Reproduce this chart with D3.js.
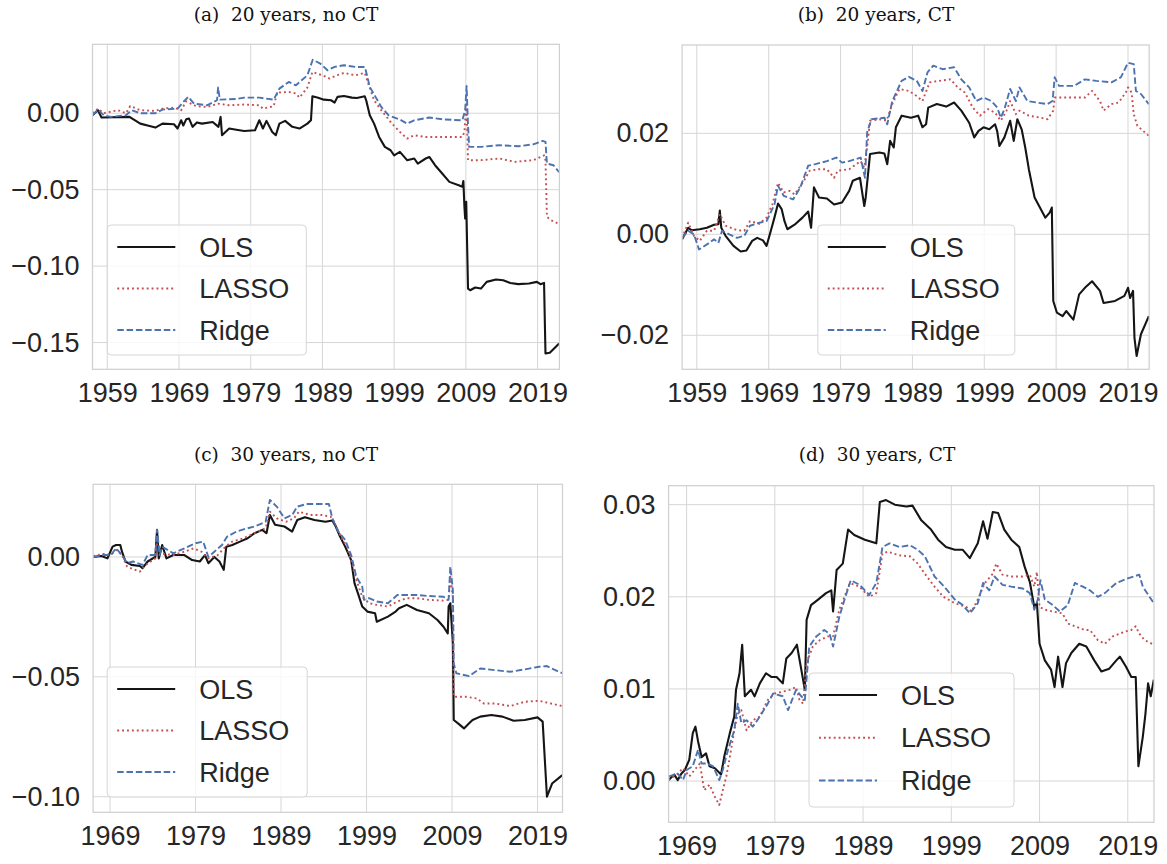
<!DOCTYPE html>
<html>
<head>
<meta charset="utf-8">
<script src="https://cdn.jsdelivr.net/npm/d3@7"></script>
<style>
  body { margin: 0; background: #fff; }
  svg { display: block; }
  .title { font-family: "DejaVu Serif", "Liberation Serif", serif; font-size: 18.5px; fill: #111; white-space: pre; }
  .legend text { font-family: "Liberation Sans", Arial, sans-serif; font-size: 27px; fill: #262626; }
</style>
</head>
<body>
<svg id="chart" width="1167" height="864"></svg>
<script>
// tick labels
const xTicks20 = [1959, 1969, 1979, 1989, 1999, 2009, 2019];
const xTicks30 = [1969, 1979, 1989, 1999, 2009, 2019];
const yTicksA = [-0.15, -0.10, -0.05, 0.00];
const yTicksB = [-0.02, 0.00, 0.02];
const yTicksC = [-0.10, -0.05, 0.00];
const yTicksD = [0.00, 0.01, 0.02, 0.03];

const seriesNames = ["OLS", "LASSO", "Ridge"];

// (a) 20 years, no CT  -- [year, value]
const olsA = [[1956.94,-0.0013],[1957.7,0.0020],[1958.2,-0.0028],[1962.1,-0.0024],[1963.6,-0.0068],[1964.9,-0.0083],[1965.7,-0.0094],[1966.7,-0.0068],[1968.3,-0.0072],[1968.8,-0.0100],[1969.3,-0.0046],[1969.6,-0.0080],[1970.0,-0.0040],[1970.4,-0.0035],[1970.9,-0.0089],[1971.5,-0.0060],[1972.2,-0.0068],[1973.7,-0.0057],[1974.5,-0.0089],[1974.8,-0.0024],[1975.0,-0.0144],[1976.0,-0.0100],[1977.0,-0.0108],[1978.1,-0.0116],[1979.6,-0.0111],[1980.2,-0.0046],[1980.7,-0.0100],[1981.2,-0.0050],[1982.0,-0.0122],[1982.5,-0.0144],[1983.0,-0.0068],[1983.8,-0.0050],[1984.8,-0.0089],[1985.8,-0.0100],[1986.9,-0.0068],[1987.4,-0.0046],[1987.6,0.0111],[1988.4,0.0102],[1989.2,0.0089],[1990.2,0.0085],[1990.7,0.0070],[1991.1,0.0107],[1992.0,0.0113],[1993.1,0.0102],[1993.8,0.0100],[1994.9,0.0111],[1995.1,0.0085],[1995.6,-0.0013],[1996.2,-0.0068],[1996.9,-0.0155],[1997.7,-0.0220],[1998.5,-0.0242],[1999.0,-0.0275],[1999.8,-0.0253],[2000.8,-0.0307],[2001.8,-0.0296],[2002.3,-0.0329],[2003.4,-0.0296],[2003.9,-0.0286],[2004.7,-0.0340],[2005.7,-0.0394],[2006.7,-0.0449],[2008.0,-0.0471],[2008.5,-0.0481],[2008.65,-0.0443],[2008.8,-0.0613],[2008.9,-0.0689],[2009.05,-0.0580],[2009.3,-0.1147],[2009.6,-0.1158],[2010.3,-0.1140],[2011.1,-0.1147],[2011.9,-0.1103],[2013.2,-0.1088],[2014.2,-0.1092],[2015.2,-0.1110],[2016.3,-0.1118],[2017.8,-0.1114],[2018.9,-0.1103],[2019.4,-0.1118],[2019.9,-0.1110],[2020.1,-0.1572],[2020.7,-0.1567],[2022.0,-0.1506]];
const lassoA = [[1956.94,0.0000],[1957.7,0.0030],[1958.5,0.0000],[1959.5,0.0010],[1960.5,0.0020],[1961.6,0.0000],[1962.2,0.0047],[1963.6,0.0020],[1965.7,0.0015],[1966.7,0.0030],[1968.3,0.0037],[1969.3,0.0020],[1970.0,0.0078],[1971.4,0.0046],[1972.9,0.0041],[1974.5,0.0063],[1976.0,0.0052],[1978.1,0.0057],[1980.2,0.0052],[1980.7,0.0030],[1982.2,0.0046],[1982.7,0.0135],[1984.3,0.0139],[1985.3,0.0129],[1985.8,0.0102],[1986.9,0.0168],[1987.6,0.0270],[1989.0,0.0248],[1990.0,0.0227],[1991.0,0.0248],[1992.0,0.0264],[1993.6,0.0248],[1994.9,0.0264],[1995.4,0.0194],[1996.2,0.0085],[1997.2,0.0020],[1998.7,-0.0068],[1999.8,-0.0122],[2000.8,-0.0166],[2001.8,-0.0144],[2003.4,-0.0155],[2006.0,-0.0155],[2008.5,-0.0155],[2008.8,-0.0122],[2009.05,0.0070],[2009.2,-0.0133],[2009.3,-0.0307],[2011.1,-0.0307],[2013.7,-0.0296],[2015.8,-0.0318],[2018.4,-0.0307],[2019.4,-0.0286],[2019.9,-0.0275],[2020.1,-0.0307],[2020.3,-0.0678],[2020.9,-0.0700],[2022.0,-0.0725]];
const ridgeA = [[1956.94,-0.0013],[1957.7,0.0024],[1958.5,-0.0013],[1959.5,-0.0024],[1961.6,-0.0013],[1962.4,0.0020],[1963.6,0.0000],[1965.7,0.0000],[1966.7,0.0024],[1968.8,0.0030],[1969.6,0.0074],[1970.3,0.0107],[1971.1,0.0063],[1972.9,0.0052],[1974.3,0.0085],[1974.45,0.0168],[1974.7,0.0089],[1977.1,0.0094],[1978.1,0.0102],[1980.2,0.0102],[1982.2,0.0089],[1983.0,0.0161],[1984.3,0.0205],[1985.3,0.0183],[1986.1,0.0216],[1986.9,0.0248],[1987.65,0.0350],[1988.7,0.0325],[1989.7,0.0281],[1990.7,0.0303],[1992.0,0.0314],[1993.6,0.0303],[1994.9,0.0303],[1995.1,0.0270],[1995.6,0.0172],[1996.4,0.0107],[1997.2,0.0041],[1998.2,-0.0013],[1999.8,-0.0041],[2000.8,-0.0068],[2001.8,-0.0046],[2003.9,-0.0028],[2006.0,-0.0041],[2008.5,-0.0046],[2008.9,0.0020],[2009.1,0.0178],[2009.25,-0.0024],[2009.45,-0.0220],[2011.1,-0.0220],[2013.7,-0.0209],[2016.3,-0.0216],[2018.4,-0.0203],[2019.7,-0.0181],[2020.1,-0.0187],[2020.3,-0.0329],[2021.2,-0.0340],[2022.0,-0.0385]];

// (b) 20 years, CT
const olsB = [[1956.95,-0.0010],[1957.8,0.0013],[1958.3,0.0008],[1959.4,0.0010],[1960.4,0.0013],[1961.4,0.0019],[1962.0,0.0020],[1962.2,0.0047],[1962.4,0.0013],[1963.0,-0.0003],[1964.1,-0.0023],[1965.1,-0.0034],[1965.9,-0.0032],[1966.7,-0.0013],[1967.4,-0.0007],[1968.2,-0.0012],[1968.7,-0.0023],[1969.3,0.0007],[1969.8,0.0033],[1970.3,0.0061],[1970.8,0.0050],[1971.2,0.0026],[1971.6,0.0010],[1972.6,0.0019],[1973.7,0.0033],[1974.5,0.0045],[1974.9,0.0013],[1975.3,0.0093],[1976.0,0.0073],[1977.1,0.0071],[1978.1,0.0059],[1979.2,0.0063],[1980.2,0.0086],[1980.7,0.0106],[1981.7,0.0112],[1982.3,0.0056],[1982.5,0.0073],[1983.1,0.0159],[1984.4,0.0162],[1985.1,0.0160],[1985.5,0.0139],[1985.9,0.0185],[1986.4,0.0172],[1986.7,0.0212],[1987.5,0.0235],[1988.8,0.0231],[1989.8,0.0235],[1990.4,0.0212],[1990.9,0.0218],[1991.2,0.0251],[1992.4,0.0258],[1993.7,0.0253],[1994.8,0.0261],[1995.8,0.0245],[1996.9,0.0221],[1997.6,0.0192],[1998.2,0.0205],[1998.9,0.0212],[1999.7,0.0208],[2000.5,0.0218],[2000.8,0.0204],[2001.1,0.0175],[2001.8,0.0192],[2002.6,0.0225],[2003.1,0.0185],[2003.6,0.0228],[2004.2,0.0208],[2004.7,0.0172],[2005.2,0.0129],[2006.0,0.0073],[2007.0,0.0046],[2007.5,0.0033],[2008.1,0.0043],[2008.4,0.0053],[2008.6,-0.0132],[2009.1,-0.0155],[2009.9,-0.0162],[2010.4,-0.0152],[2011.4,-0.0169],[2012.2,-0.0119],[2013.0,-0.0106],[2014.0,-0.0093],[2015.1,-0.0112],[2015.6,-0.0136],[2017.2,-0.0132],[2018.5,-0.0122],[2019.0,-0.0106],[2019.3,-0.0126],[2019.7,-0.0112],[2019.9,-0.0205],[2020.2,-0.0241],[2020.8,-0.0198],[2021.9,-0.0162]];
const lassoB = [[1956.95,-0.0007],[1957.8,0.0023],[1958.6,-0.0003],[1959.4,-0.0013],[1960.4,0.0007],[1961.4,0.0007],[1962.2,0.0040],[1963.0,0.0017],[1964.6,0.0008],[1965.6,0.0007],[1966.4,0.0026],[1967.7,0.0021],[1968.7,0.0033],[1969.5,0.0059],[1970.3,0.0102],[1971.1,0.0083],[1971.9,0.0086],[1972.6,0.0079],[1973.9,0.0106],[1974.7,0.0126],[1976.0,0.0129],[1977.1,0.0129],[1978.1,0.0112],[1978.6,0.0126],[1980.2,0.0129],[1981.8,0.0145],[1982.3,0.0132],[1982.7,0.0172],[1983.1,0.0225],[1984.4,0.0228],[1985.4,0.0225],[1986.2,0.0258],[1987.2,0.0288],[1988.5,0.0284],[1989.6,0.0274],[1990.4,0.0264],[1991.4,0.0301],[1992.7,0.0304],[1994.3,0.0307],[1995.3,0.0291],[1996.3,0.0281],[1997.4,0.0251],[1998.4,0.0235],[1999.5,0.0248],[2000.5,0.0241],[2001.3,0.0225],[2002.1,0.0245],[2002.6,0.0264],[2003.4,0.0238],[2003.9,0.0245],[2005.2,0.0235],[2006.8,0.0231],[2007.8,0.0228],[2008.6,0.0245],[2008.8,0.0271],[2010.4,0.0271],[2013.0,0.0271],[2014.0,0.0284],[2015.1,0.0264],[2015.6,0.0245],[2016.7,0.0258],[2017.7,0.0261],[2018.7,0.0281],[2019.0,0.0291],[2019.5,0.0281],[2019.8,0.0238],[2020.3,0.0215],[2021.9,0.0195]];
const ridgeB = [[1956.95,-0.0007],[1957.8,0.0007],[1958.6,0.0000],[1959.3,-0.0030],[1960.4,-0.0020],[1961.4,-0.0010],[1962.0,-0.0017],[1962.5,0.0007],[1963.5,0.0000],[1964.6,-0.0007],[1965.6,-0.0003],[1966.4,0.0017],[1967.7,0.0023],[1968.7,0.0026],[1969.8,0.0059],[1970.3,0.0096],[1971.1,0.0076],[1972.4,0.0069],[1973.4,0.0093],[1974.5,0.0136],[1975.5,0.0139],[1977.1,0.0145],[1978.4,0.0152],[1979.2,0.0142],[1980.2,0.0145],[1981.8,0.0152],[1982.4,0.0112],[1982.7,0.0202],[1983.3,0.0228],[1985.1,0.0231],[1985.5,0.0218],[1986.2,0.0264],[1987.5,0.0304],[1988.5,0.0312],[1989.6,0.0304],[1990.4,0.0284],[1991.1,0.0321],[1991.9,0.0334],[1993.2,0.0327],[1994.8,0.0331],[1995.8,0.0307],[1996.9,0.0291],[1997.9,0.0264],[1998.9,0.0271],[2000.0,0.0264],[2000.8,0.0251],[2001.3,0.0231],[2001.8,0.0248],[2002.6,0.0288],[2003.4,0.0264],[2003.9,0.0291],[2005.0,0.0264],[2006.3,0.0261],[2007.8,0.0258],[2008.5,0.0264],[2008.8,0.0311],[2009.4,0.0294],[2011.5,0.0294],[2013.0,0.0307],[2014.6,0.0304],[2016.7,0.0301],[2018.0,0.0311],[2019.0,0.0340],[2019.8,0.0337],[2020.1,0.0284],[2020.8,0.0278],[2021.9,0.0258]];

// (c) 30 years, no CT
const olsC = [[1967.02,0.0000],[1968.0,0.0004],[1968.7,-0.0006],[1969.3,0.0043],[1969.7,0.0050],[1970.2,0.0050],[1970.4,0.0022],[1970.8,-0.0019],[1971.5,-0.0033],[1972.5,-0.0038],[1972.8,-0.0047],[1973.4,-0.0019],[1974.3,0.0000],[1974.5,0.0113],[1974.7,-0.0006],[1975.1,0.0050],[1975.6,-0.0006],[1976.4,0.0008],[1977.7,0.0008],[1978.6,-0.0013],[1979.5,-0.0019],[1980.1,0.0008],[1980.5,-0.0026],[1981.2,0.0000],[1981.8,-0.0019],[1982.3,-0.0054],[1982.6,0.0043],[1983.3,0.0050],[1984.2,0.0064],[1985.1,0.0078],[1985.9,0.0099],[1986.8,0.0113],[1987.3,0.0099],[1987.7,0.0175],[1988.3,0.0134],[1989.4,0.0127],[1990.3,0.0106],[1990.9,0.0154],[1991.8,0.0166],[1992.9,0.0154],[1994.2,0.0147],[1995.0,0.0152],[1995.4,0.0127],[1995.9,0.0085],[1996.5,0.0043],[1997.2,-0.0013],[1997.6,-0.0110],[1998.0,-0.0152],[1998.5,-0.0207],[1999.1,-0.0228],[2000.0,-0.0235],[2000.2,-0.0270],[2001.5,-0.0249],[2002.4,-0.0228],[2002.8,-0.0214],[2003.7,-0.0200],[2004.9,-0.0221],[2006.3,-0.0235],[2007.3,-0.0263],[2008.0,-0.0291],[2008.5,-0.0319],[2008.6,-0.0207],[2008.8,-0.0193],[2009.1,-0.0360],[2009.2,-0.0680],[2009.7,-0.0694],[2010.4,-0.0715],[2011.0,-0.0694],[2011.4,-0.0680],[2012.3,-0.0666],[2013.6,-0.0659],[2014.9,-0.0666],[2016.2,-0.0683],[2017.5,-0.0680],[2019.0,-0.0669],[2019.6,-0.0687],[2020.1,-0.1000],[2020.7,-0.0945],[2021.9,-0.0910]];
const lassoC = [[1967.02,0.0004],[1968.2,0.0013],[1969.1,0.0008],[1969.7,0.0029],[1970.4,0.0008],[1971.0,-0.0040],[1971.7,-0.0051],[1972.5,-0.0061],[1973.2,-0.0033],[1974.3,-0.0006],[1974.5,0.0057],[1975.1,0.0013],[1976.4,0.0008],[1977.7,0.0022],[1978.8,0.0036],[1979.7,0.0022],[1980.5,-0.0006],[1981.6,0.0008],[1982.5,0.0043],[1983.3,0.0064],[1984.6,0.0078],[1985.9,0.0099],[1987.2,0.0120],[1987.7,0.0189],[1988.5,0.0161],[1989.6,0.0147],[1990.5,0.0161],[1991.1,0.0189],[1992.4,0.0175],[1993.7,0.0175],[1994.8,0.0168],[1995.2,0.0147],[1995.9,0.0092],[1996.7,0.0043],[1997.4,-0.0040],[1997.8,-0.0096],[1998.5,-0.0166],[1999.3,-0.0193],[2000.2,-0.0200],[2001.5,-0.0207],[2002.6,-0.0186],[2003.7,-0.0172],[2004.9,-0.0172],[2006.3,-0.0179],[2008.0,-0.0182],[2008.6,-0.0179],[2008.8,-0.0082],[2009.1,-0.0166],[2009.2,-0.0583],[2010.6,-0.0583],[2011.9,-0.0590],[2012.7,-0.0611],[2014.0,-0.0611],[2015.8,-0.0622],[2017.5,-0.0604],[2019.2,-0.0600],[2020.5,-0.0611],[2021.9,-0.0622]];
const ridgeC = [[1967.02,0.0000],[1968.2,0.0008],[1969.1,0.0008],[1969.7,0.0036],[1970.4,0.0008],[1971.0,-0.0026],[1971.7,-0.0019],[1972.8,-0.0033],[1973.4,0.0008],[1974.3,0.0008],[1974.5,0.0113],[1974.8,0.0008],[1975.1,0.0043],[1976.4,0.0015],[1977.7,0.0036],[1979.0,0.0057],[1979.9,0.0064],[1980.5,0.0000],[1981.2,0.0022],[1982.1,0.0050],[1982.7,0.0085],[1983.8,0.0106],[1984.6,0.0115],[1985.9,0.0127],[1987.2,0.0147],[1987.7,0.0238],[1988.5,0.0210],[1989.4,0.0161],[1990.3,0.0175],[1990.9,0.0210],[1992.0,0.0221],[1993.3,0.0221],[1994.6,0.0221],[1995.0,0.0161],[1995.7,0.0106],[1996.5,0.0071],[1997.2,0.0008],[1997.8,-0.0082],[1998.5,-0.0124],[1998.7,-0.0179],[1999.3,-0.0172],[2000.2,-0.0186],[2001.5,-0.0193],[2002.6,-0.0159],[2003.7,-0.0159],[2004.9,-0.0159],[2006.3,-0.0163],[2008.0,-0.0166],[2008.6,-0.0179],[2008.8,-0.0040],[2009.1,-0.0138],[2009.2,-0.0444],[2009.5,-0.0485],[2011.0,-0.0497],[2012.3,-0.0465],[2014.0,-0.0472],[2015.8,-0.0479],[2017.5,-0.0469],[2019.2,-0.0458],[2020.1,-0.0455],[2020.9,-0.0469],[2021.9,-0.0485]];

// (d) 30 years, CT
const olsD = [[1966.96,0.0001],[1967.6,0.0007],[1968.0,0.0001],[1968.4,0.0008],[1968.8,0.0012],[1969.3,0.0023],[1969.7,0.0052],[1970.0,0.0059],[1970.3,0.0043],[1970.7,0.0026],[1971.2,0.0030],[1971.6,0.0016],[1972.2,0.0014],[1972.9,0.0007],[1973.3,0.0028],[1973.9,0.0052],[1974.4,0.0070],[1974.6,0.0099],[1975.0,0.0117],[1975.3,0.0148],[1975.6,0.0092],[1976.3,0.0099],[1976.7,0.0092],[1977.3,0.0106],[1978.0,0.0117],[1978.6,0.0113],[1979.2,0.0113],[1979.9,0.0106],[1980.3,0.0133],[1980.9,0.0139],[1981.5,0.0148],[1982.0,0.0121],[1982.4,0.0099],[1982.6,0.0175],[1983.1,0.0191],[1983.9,0.0197],[1984.8,0.0204],[1985.4,0.0207],[1985.6,0.0184],[1986.0,0.0229],[1986.7,0.0236],[1987.3,0.0273],[1988.0,0.0267],[1989.2,0.0262],[1990.5,0.0258],[1990.9,0.0303],[1991.6,0.0305],[1992.6,0.0300],[1993.9,0.0298],[1994.6,0.0299],[1995.6,0.0283],[1996.7,0.0273],[1997.5,0.0262],[1998.4,0.0254],[1999.4,0.0251],[2000.3,0.0251],[2001.1,0.0242],[2002.0,0.0258],[2002.6,0.0282],[2003.1,0.0263],[2003.7,0.0292],[2004.3,0.0291],[2005.0,0.0273],[2005.8,0.0262],[2006.7,0.0254],[2007.3,0.0233],[2007.9,0.0216],[2008.4,0.0189],[2008.7,0.0193],[2009.0,0.0149],[2009.6,0.0131],[2010.3,0.0121],[2010.7,0.0102],[2011.1,0.0135],[2011.6,0.0102],[2012.0,0.0128],[2012.6,0.0139],[2013.5,0.0149],[2014.3,0.0146],[2015.2,0.0131],[2016.0,0.0119],[2016.9,0.0122],[2017.7,0.0131],[2018.1,0.0135],[2018.8,0.0124],[2019.4,0.0113],[2019.9,0.0113],[2020.2,0.0016],[2020.7,0.0048],[2021.0,0.0073],[2021.3,0.0106],[2021.6,0.0092],[2021.95,0.0110]];
const lassoD = [[1966.96,0.0001],[1968.0,0.0008],[1968.6,0.0014],[1969.3,0.0005],[1969.9,0.0012],[1970.5,0.0019],[1971.0,-0.0010],[1971.6,-0.0004],[1972.2,-0.0017],[1972.7,-0.0026],[1973.1,-0.0010],[1973.5,0.0005],[1973.9,0.0026],[1974.4,0.0055],[1974.8,0.0073],[1975.2,0.0077],[1975.8,0.0055],[1976.5,0.0066],[1977.3,0.0070],[1978.2,0.0088],[1979.0,0.0095],[1979.9,0.0097],[1980.7,0.0099],[1981.4,0.0102],[1981.8,0.0088],[1982.2,0.0084],[1982.6,0.0128],[1983.3,0.0146],[1984.1,0.0153],[1985.0,0.0157],[1985.6,0.0157],[1986.3,0.0186],[1986.9,0.0200],[1987.5,0.0215],[1988.6,0.0211],[1989.7,0.0200],[1990.5,0.0204],[1991.2,0.0247],[1991.8,0.0249],[1993.1,0.0245],[1994.3,0.0244],[1995.2,0.0236],[1996.0,0.0225],[1997.1,0.0211],[1998.1,0.0200],[1999.4,0.0193],[2000.7,0.0189],[2001.3,0.0184],[2002.0,0.0197],[2002.8,0.0215],[2003.7,0.0225],[2004.1,0.0236],[2004.8,0.0224],[2005.8,0.0222],[2007.1,0.0222],[2007.9,0.0224],[2008.4,0.0211],[2008.7,0.0227],[2009.0,0.0189],[2009.6,0.0186],[2010.5,0.0184],[2011.6,0.0182],[2012.2,0.0171],[2013.0,0.0168],[2014.1,0.0164],[2014.7,0.0164],[2015.6,0.0153],[2016.4,0.0149],[2017.3,0.0157],[2018.6,0.0162],[2019.4,0.0164],[2019.9,0.0168],[2020.3,0.0160],[2020.9,0.0153],[2021.95,0.0148]];
const ridgeD = [[1966.96,0.0005],[1968.0,0.0008],[1968.6,0.0001],[1969.0,0.0012],[1969.7,0.0016],[1970.3,0.0034],[1970.7,0.0019],[1971.4,0.0019],[1972.0,0.0016],[1972.7,0.0001],[1973.1,0.0012],[1973.7,0.0034],[1974.4,0.0055],[1974.8,0.0084],[1975.2,0.0063],[1975.8,0.0066],[1976.5,0.0059],[1977.3,0.0070],[1978.2,0.0084],[1978.8,0.0095],[1979.9,0.0092],[1980.5,0.0077],[1981.4,0.0099],[1982.0,0.0092],[1982.4,0.0088],[1982.9,0.0146],[1983.7,0.0157],[1984.6,0.0164],[1985.2,0.0160],[1985.6,0.0146],[1986.3,0.0178],[1986.9,0.0197],[1987.6,0.0218],[1988.6,0.0213],[1989.7,0.0202],[1990.5,0.0215],[1991.2,0.0254],[1992.0,0.0258],[1993.1,0.0254],[1994.3,0.0256],[1995.2,0.0251],[1996.0,0.0244],[1997.1,0.0222],[1998.2,0.0211],[1999.4,0.0197],[2000.3,0.0191],[2001.1,0.0182],[2002.0,0.0193],[2002.6,0.0215],[2003.3,0.0207],[2003.9,0.0222],[2004.8,0.0213],[2005.8,0.0211],[2007.1,0.0209],[2007.9,0.0204],[2008.4,0.0186],[2008.8,0.0197],[2009.1,0.0218],[2009.6,0.0197],[2010.5,0.0191],[2011.3,0.0184],[2012.2,0.0191],[2013.0,0.0215],[2013.9,0.0211],[2014.7,0.0207],[2015.6,0.0200],[2016.4,0.0204],[2017.7,0.0215],[2019.0,0.0220],[2020.3,0.0224],[2020.7,0.0211],[2021.95,0.0193]];

// line styles, same order as seriesNames
const styles = [
  { color: "#151515", dash: null, width: 2.1 },
  { color: "#C44E52", dash: "1.9,3", width: 1.9 },
  { color: "#4C72B0", dash: "6.5,2.8", width: 1.9 }
];

const panels = [
  { title: "(a)  20 years, no CT", tx: 286, ty: 21, box: [92.5, 44.3, 559.4, 369.3],
    xDomain: [1956.94, 2022.04], yDomain: [-0.1675, 0.0451], xTicks: xTicks20, yTicks: yTicksA,
    legend: [14.8, 180.7, 199, 130], data: [olsA, lassoA, ridgeA] },
  { title: "(b)  20 years, CT", tx: 876, ty: 21, box: [682.1, 45, 1149.2, 369.3],
    xDomain: [1956.95, 2021.95], yDomain: [-0.02674, 0.0375], xTicks: xTicks20, yTicks: yTicksB,
    legend: [135.7, 180, 197, 130], data: [olsB, lassoB, ridgeB] },
  { title: "(c)  30 years, no CT", tx: 286, ty: 461, box: [93.1, 484.3, 562.5, 812.3],
    xDomain: [1967.02, 2021.92], yDomain: [-0.1065, 0.0303], xTicks: xTicks30, yTicks: yTicksC,
    legend: [14.1, 182.7, 200, 130], data: [olsC, lassoC, ridgeC] },
  { title: "(d)  30 years, CT", tx: 877, ty: 460.5, box: [668.6, 485.7, 1154, 822.3],
    xDomain: [1966.96, 2021.97], yDomain: [-0.00448, 0.03206], xTicks: xTicks30, yTicks: yTicksD,
    legend: [140.4, 187.3, 205, 134], data: [olsD, lassoD, ridgeD] }
];

const svg = d3.select("#chart");
const fmtY = d3.format(".2f");

panels.forEach((p, i) => {
  const [x0, y0, x1, y1] = p.box;
  const w = x1 - x0, h = y1 - y0;

  svg.append("text")
    .attr("class", "title")
    .attr("x", p.tx).attr("y", p.ty)
    .attr("text-anchor", "middle")
    .text(p.title);

  const g = svg.append("g").attr("transform", `translate(${x0},${y0})`);
  const x = d3.scaleLinear().domain(p.xDomain).range([0, w]);
  const y = d3.scaleLinear().domain(p.yDomain).range([h, 0]);

  // grid
  g.append("g").selectAll("line").data(p.xTicks).join("line")
    .attr("x1", d => x(d)).attr("x2", d => x(d)).attr("y1", 0).attr("y2", h)
    .attr("stroke", "#d6d6d6").attr("stroke-width", 1);
  g.append("g").selectAll("line").data(p.yTicks).join("line")
    .attr("x1", 0).attr("x2", w).attr("y1", d => y(d)).attr("y2", d => y(d))
    .attr("stroke", "#d6d6d6").attr("stroke-width", 1);

  // axes labels
  const styleAxis = sel => {
    sel.select(".domain").remove();
    sel.attr("font-family", '"Liberation Sans", Arial, sans-serif')
      .attr("font-size", 27)
      .style("color", "#262626");
  };
  g.append("g")
    .call(d3.axisLeft(y).tickValues(p.yTicks).tickFormat(fmtY).tickSize(0).tickPadding(13))
    .call(styleAxis);
  g.append("g")
    .attr("transform", `translate(0,${h})`)
    .call(d3.axisBottom(x).tickValues(p.xTicks).tickFormat(d3.format("d")).tickSize(0).tickPadding(13.5))
    .call(styleAxis);

  // lines
  const clipId = "clip" + i;
  g.append("clipPath").attr("id", clipId)
    .append("rect").attr("width", w).attr("height", h);
  const line = d3.line().x(d => x(d[0])).y(d => y(d[1]));
  const lines = g.append("g").attr("clip-path", `url(#${clipId})`);
  p.data.forEach((series, k) => {
    lines.append("path")
      .datum(series)
      .attr("d", line)
      .attr("fill", "none")
      .attr("stroke", styles[k].color)
      .attr("stroke-width", styles[k].width)
      .attr("stroke-linejoin", "round")
      .attr("stroke-dasharray", styles[k].dash);
  });

  // spines
  g.append("rect")
    .attr("width", w).attr("height", h)
    .attr("fill", "none").attr("stroke", "#d0d0d0").attr("stroke-width", 1.25);

  // legend
  const [lx, ly, lw, lh] = p.legend;
  const leg = g.append("g").attr("class", "legend").attr("transform", `translate(${lx},${ly})`);
  leg.append("rect")
    .attr("width", lw).attr("height", lh).attr("rx", 4)
    .attr("fill", "#fff").attr("fill-opacity", 0.8)
    .attr("stroke", "#d6d6d6").attr("stroke-width", 1);
  seriesNames.forEach((name, k) => {
    const ry = 22 + k * 41.5 * (lh / 130);
    leg.append("line")
      .attr("x1", 10).attr("x2", 68).attr("y1", ry).attr("y2", ry)
      .attr("stroke", styles[k].color).attr("stroke-width", styles[k].width)
      .attr("stroke-dasharray", styles[k].dash);
    leg.append("text")
      .attr("x", 92).attr("y", ry).attr("dy", "0.36em")
      .text(name);
  });
});
</script>
</body>
</html>
